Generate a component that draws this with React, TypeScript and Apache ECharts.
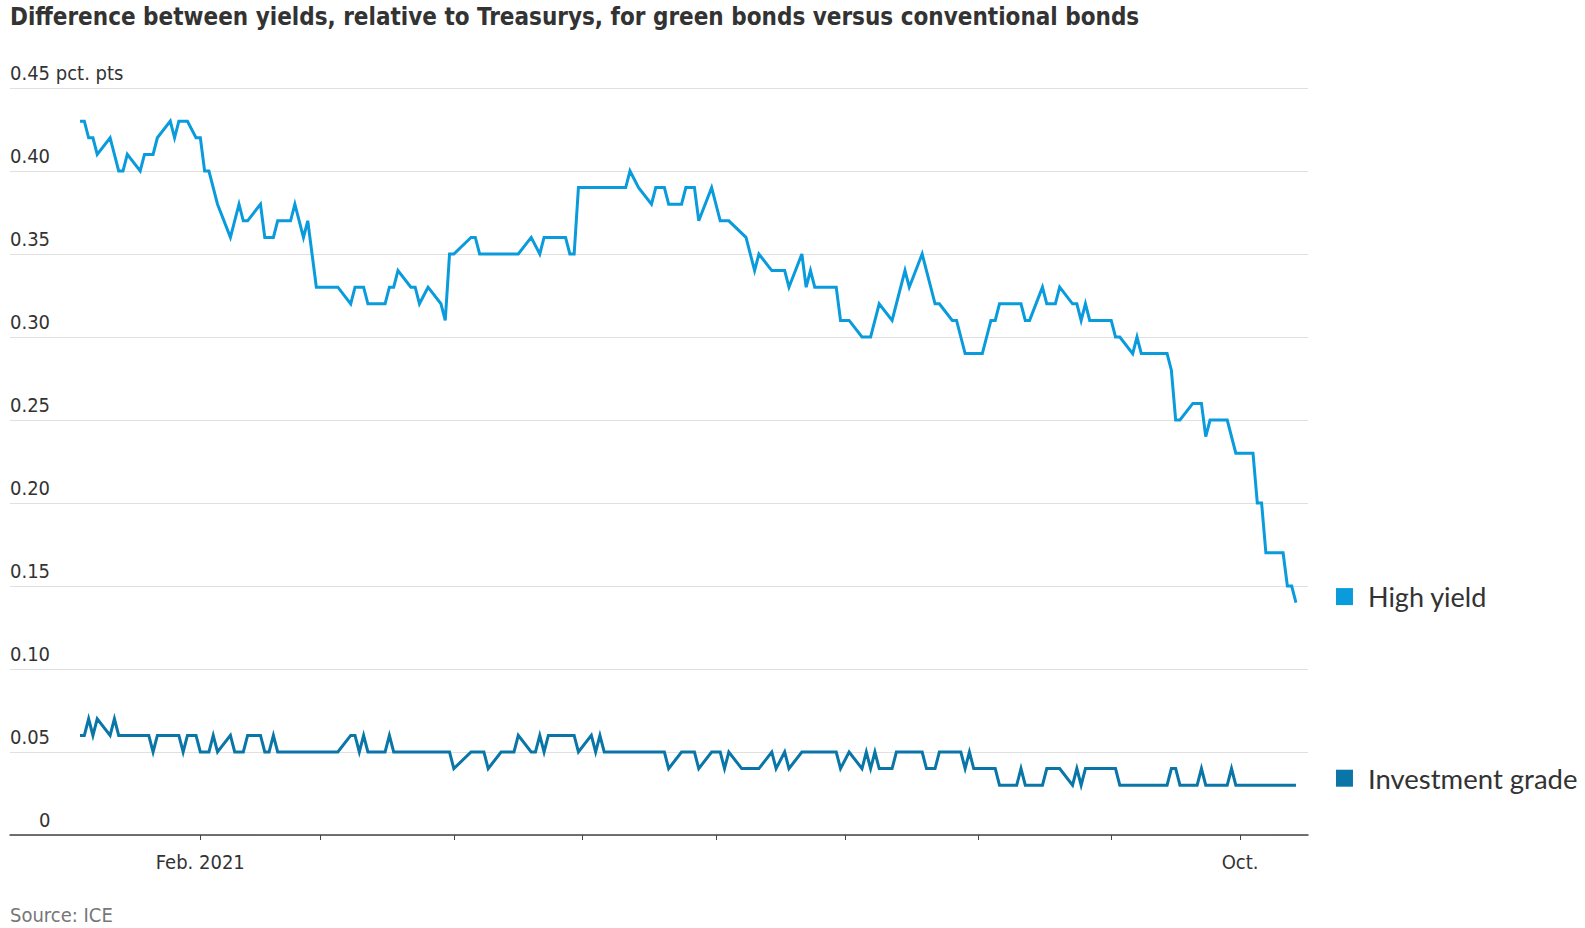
import { useEffect, useRef } from 'react';
import * as echarts from 'echarts';

const TITLE = 'Difference between yields, relative to Treasurys, for green bonds versus conventional bonds';
const SOURCE = 'Source: ICE';

// High-yield series (turning points, 2021)
const hyDates = [
  '2021-01-04', '2021-01-05', '2021-01-06', '2021-01-07', '2021-01-08', '2021-01-11', '2021-01-12', '2021-01-13',
  '2021-01-14', '2021-01-15', '2021-01-18', '2021-01-19', '2021-01-20', '2021-01-21', '2021-01-22', '2021-01-25',
  '2021-01-26', '2021-01-27', '2021-01-29', '2021-01-31', '2021-02-01', '2021-02-02', '2021-02-03', '2021-02-05',
  '2021-02-08', '2021-02-10', '2021-02-11', '2021-02-12', '2021-02-15', '2021-02-16', '2021-02-18', '2021-02-19',
  '2021-02-22', '2021-02-23', '2021-02-25', '2021-02-26', '2021-02-28', '2021-03-05', '2021-03-08', '2021-03-09',
  '2021-03-11', '2021-03-12', '2021-03-16', '2021-03-17', '2021-03-18', '2021-03-19', '2021-03-22', '2021-03-23',
  '2021-03-24', '2021-03-26', '2021-03-29', '2021-03-30', '2021-03-31', '2021-04-01', '2021-04-05', '2021-04-06',
  '2021-04-07', '2021-04-16', '2021-04-19', '2021-04-21', '2021-04-22', '2021-04-27', '2021-04-28', '2021-04-29',
  '2021-04-30', '2021-05-11', '2021-05-12', '2021-05-14', '2021-05-17', '2021-05-18', '2021-05-20', '2021-05-21',
  '2021-05-24', '2021-05-25', '2021-05-27', '2021-05-28', '2021-05-31', '2021-06-02', '2021-06-04', '2021-06-08',
  '2021-06-10', '2021-06-11', '2021-06-14', '2021-06-17', '2021-06-18', '2021-06-21', '2021-06-22', '2021-06-23',
  '2021-06-24', '2021-06-29', '2021-06-30', '2021-07-02', '2021-07-05', '2021-07-07', '2021-07-09', '2021-07-12',
  '2021-07-15', '2021-07-16', '2021-07-19', '2021-07-22', '2021-07-23', '2021-07-26', '2021-07-27', '2021-07-29',
  '2021-08-02', '2021-08-04', '2021-08-05', '2021-08-06', '2021-08-11', '2021-08-12', '2021-08-13', '2021-08-16',
  '2021-08-17', '2021-08-19', '2021-08-20', '2021-08-23', '2021-08-24', '2021-08-25', '2021-08-26', '2021-08-27',
  '2021-09-01', '2021-09-02', '2021-09-03', '2021-09-06', '2021-09-07', '2021-09-08', '2021-09-14', '2021-09-15',
  '2021-09-16', '2021-09-17', '2021-09-20', '2021-09-22', '2021-09-23', '2021-09-24', '2021-09-28', '2021-09-30',
  '2021-10-04', '2021-10-05', '2021-10-06', '2021-10-07', '2021-10-11', '2021-10-12', '2021-10-13', '2021-10-14',
];
const hyValues = [
  0.43, 0.43, 0.42, 0.42, 0.41, 0.42, 0.41, 0.40,
  0.40, 0.41, 0.40, 0.41, 0.41, 0.41, 0.42, 0.43,
  0.42, 0.43, 0.43, 0.42, 0.42, 0.40, 0.40, 0.38,
  0.36, 0.38, 0.37, 0.37, 0.38, 0.36, 0.36, 0.37,
  0.37, 0.38, 0.36, 0.37, 0.33, 0.33, 0.32, 0.33,
  0.33, 0.32, 0.32, 0.33, 0.33, 0.34, 0.33, 0.33,
  0.32, 0.33, 0.32, 0.31, 0.35, 0.35, 0.36, 0.36,
  0.35, 0.35, 0.36, 0.35, 0.36, 0.36, 0.35, 0.35,
  0.39, 0.39, 0.40, 0.39, 0.38, 0.39, 0.39, 0.38,
  0.38, 0.39, 0.39, 0.37, 0.39, 0.37, 0.37, 0.36,
  0.34, 0.35, 0.34, 0.34, 0.33, 0.35, 0.33, 0.34,
  0.33, 0.33, 0.31, 0.31, 0.30, 0.30, 0.32, 0.31,
  0.34, 0.33, 0.35, 0.32, 0.32, 0.31, 0.31, 0.29,
  0.29, 0.31, 0.31, 0.32, 0.32, 0.31, 0.31, 0.33,
  0.32, 0.32, 0.33, 0.32, 0.32, 0.31, 0.32, 0.31,
  0.31, 0.30, 0.30, 0.29, 0.30, 0.29, 0.29, 0.28,
  0.25, 0.25, 0.26, 0.26, 0.24, 0.25, 0.25, 0.23,
  0.23, 0.20, 0.20, 0.17, 0.17, 0.15, 0.15, 0.14,
];

// Investment-grade series (turning points, 2021)
const igDates = [
  '2021-01-04', '2021-01-05', '2021-01-06', '2021-01-07', '2021-01-08', '2021-01-11', '2021-01-12', '2021-01-13',
  '2021-01-20', '2021-01-21', '2021-01-22', '2021-01-27', '2021-01-28', '2021-01-29', '2021-01-31', '2021-02-01',
  '2021-02-03', '2021-02-04', '2021-02-05', '2021-02-08', '2021-02-09', '2021-02-11', '2021-02-12', '2021-02-15',
  '2021-02-16', '2021-02-17', '2021-02-18', '2021-02-19', '2021-03-05', '2021-03-08', '2021-03-09', '2021-03-10',
  '2021-03-11', '2021-03-12', '2021-03-16', '2021-03-17', '2021-03-18', '2021-03-31', '2021-04-01', '2021-04-05',
  '2021-04-08', '2021-04-09', '2021-04-12', '2021-04-15', '2021-04-16', '2021-04-19', '2021-04-20', '2021-04-21',
  '2021-04-22', '2021-04-23', '2021-04-29', '2021-04-30', '2021-05-03', '2021-05-04', '2021-05-05', '2021-05-06',
  '2021-05-20', '2021-05-21', '2021-05-24', '2021-05-27', '2021-05-28', '2021-05-31', '2021-06-02', '2021-06-03',
  '2021-06-04', '2021-06-07', '2021-06-11', '2021-06-14', '2021-06-15', '2021-06-17', '2021-06-18', '2021-06-21',
  '2021-06-29', '2021-06-30', '2021-07-02', '2021-07-05', '2021-07-06', '2021-07-07', '2021-07-08', '2021-07-09',
  '2021-07-12', '2021-07-13', '2021-07-19', '2021-07-20', '2021-07-22', '2021-07-23', '2021-07-28', '2021-07-29',
  '2021-07-30', '2021-07-31', '2021-08-05', '2021-08-06', '2021-08-10', '2021-08-11', '2021-08-12', '2021-08-16',
  '2021-08-17', '2021-08-20', '2021-08-23', '2021-08-24', '2021-08-25', '2021-08-26', '2021-09-02', '2021-09-03',
  '2021-09-14', '2021-09-15', '2021-09-16', '2021-09-17', '2021-09-21', '2021-09-22', '2021-09-23', '2021-09-28',
  '2021-09-29', '2021-09-30', '2021-10-14',
];
const igValues = [
  0.06, 0.06, 0.07, 0.06, 0.07, 0.06, 0.07, 0.06,
  0.06, 0.05, 0.06, 0.06, 0.05, 0.06, 0.06, 0.05,
  0.05, 0.06, 0.05, 0.06, 0.05, 0.05, 0.06, 0.06,
  0.05, 0.05, 0.06, 0.05, 0.05, 0.06, 0.06, 0.05,
  0.06, 0.05, 0.05, 0.06, 0.05, 0.05, 0.04, 0.05,
  0.05, 0.04, 0.05, 0.05, 0.06, 0.05, 0.05, 0.06,
  0.05, 0.06, 0.06, 0.05, 0.06, 0.05, 0.06, 0.05,
  0.05, 0.04, 0.05, 0.05, 0.04, 0.05, 0.05, 0.04,
  0.05, 0.04, 0.04, 0.05, 0.04, 0.05, 0.04, 0.05,
  0.05, 0.04, 0.05, 0.04, 0.05, 0.04, 0.05, 0.04,
  0.04, 0.05, 0.05, 0.04, 0.04, 0.05, 0.05, 0.04,
  0.05, 0.04, 0.04, 0.03, 0.03, 0.04, 0.03, 0.03,
  0.04, 0.04, 0.03, 0.04, 0.03, 0.04, 0.04, 0.03,
  0.03, 0.04, 0.04, 0.03, 0.03, 0.04, 0.03, 0.03,
  0.04, 0.03, 0.03,
];

const monthTicks = [
  '2021-02-01', '2021-03-01', '2021-04-01', '2021-05-01', '2021-06-01',
  '2021-07-01', '2021-08-01', '2021-09-01', '2021-10-01',
];
const xTickLabels = ['Feb. 2021', 'Oct.'];
const xLabelDates = ['2021-02-01', '2021-10-01'];
const Y_MAX = 0.45;
const Y_STEP = 0.05;

const HY_COLOR = '#0a9bdc';
const IG_COLOR = '#0a76a8';
const NARROW = "'Liberation Sans Narrow', 'DejaVu Sans Condensed', 'DejaVu Sans', sans-serif";
const SANS = "Lato, 'Noto Sans', sans-serif";

// x is measured in days from 1 Feb 2021
const DAY = 86400000;
const EPOCH = Date.UTC(2021, 1, 1);
const dayNum = (d: string) => {
  const [y, m, dd] = d.split('-').map(Number);
  return Math.round((Date.UTC(y, m - 1, dd) - EPOCH) / DAY);
};
const X_MIN = dayNum('2020-12-18') + 0.7;
const X_MAX = dayNum('2021-10-16') + 0.8;

export default function App() {
  const ref = useRef<HTMLDivElement>(null);
  useEffect(() => {
    if (!ref.current) return;
    const chart = echarts.init(ref.current, null, { renderer: 'svg' });
    const hyData = hyDates.map((d, i) => [dayNum(d), hyValues[i]]);
    const igData = igDates.map((d, i) => [dayNum(d), igValues[i]]);
    const labelDays = xLabelDates.map(dayNum);
    const labelFont = { fontFamily: NARROW, fontSize: 20, color: '#333' };

    chart.setOption({
      animation: false,
      backgroundColor: '#ffffff',
      title: [
        {
          text: TITLE,
          left: 10,
          top: 5,
          padding: 0,
          textStyle: { fontFamily: NARROW, fontWeight: 'bold', fontSize: 24, color: '#333' },
        },
        {
          text: SOURCE,
          left: 10,
          top: 905,
          padding: 0,
          textStyle: { fontFamily: NARROW, fontWeight: 'normal', fontSize: 20, color: '#777' },
        },
      ],
      grid: { left: 10, right: 277, top: 88, bottom: 93 },
      xAxis: {
        type: 'value',
        min: X_MIN,
        max: X_MAX,
        axisLine: { show: true, onZero: false, lineStyle: { color: '#444', width: 1.5 } },
        axisTick: { show: true, customValues: monthTicks.map(dayNum), length: 5, lineStyle: { color: '#444', width: 1 } },
        axisLabel: {
          customValues: labelDays,
          margin: 17,
          showMinLabel: true,
          showMaxLabel: true,
          ...labelFont,
          formatter: (v: number) => {
            const idx = labelDays.indexOf(Math.round(v));
            return idx >= 0 ? xTickLabels[idx] : '';
          },
        },
        splitLine: { show: false },
      },
      yAxis: {
        type: 'value',
        min: 0,
        max: Y_MAX,
        interval: Y_STEP,
        axisLine: { show: false },
        axisTick: { show: false },
        splitLine: { lineStyle: { color: '#e0e0e0', width: 1 } },
        axisLabel: {
          inside: true,
          margin: 0,
          verticalAlign: 'bottom',
          padding: [0, 0, 5, 0],
          ...labelFont,
          formatter: (v: number) => {
            if (v === 0) return '{z|0}';
            if (Math.abs(v - Y_MAX) < 1e-9) return v.toFixed(2) + ' pct. pts';
            return v.toFixed(2);
          },
          rich: { z: { ...labelFont, padding: [0, 0, 0, 29] } },
        },
      },
      series: [
        {
          name: 'Investment grade',
          type: 'line',
          data: igData,
          showSymbol: false,
          symbol: 'none',
          lineStyle: { color: IG_COLOR, width: 3, join: 'miter', miterLimit: 4 },
          itemStyle: { color: IG_COLOR },
          endLabel: {
            show: true,
            distance: 40,
            offset: [0, -7],
            formatter: '{s|}{t|Investment grade}',
            rich: {
              s: { width: 17, height: 17, backgroundColor: IG_COLOR },
              t: { fontFamily: SANS, fontSize: 27.5, color: '#333', padding: [0, 0, 0, 15] },
            },
          },
        },
        {
          name: 'High yield',
          type: 'line',
          data: hyData,
          showSymbol: false,
          symbol: 'none',
          lineStyle: { color: HY_COLOR, width: 3, join: 'miter', miterLimit: 4 },
          itemStyle: { color: HY_COLOR },
          endLabel: {
            show: true,
            distance: 40,
            offset: [0, -6],
            formatter: '{s|}{t|High yield}',
            rich: {
              s: { width: 17, height: 17, backgroundColor: HY_COLOR },
              t: { fontFamily: SANS, fontSize: 27, color: '#333', padding: [0, 0, 0, 15] },
            },
          },
        },
      ],
    });
    return () => chart.dispose();
  }, []);
  return (
    <div
      ref={ref}
      style={{ position: 'fixed', left: 0, top: 0, width: 1585, height: 928, background: '#fff' }}
    />
  );
}
